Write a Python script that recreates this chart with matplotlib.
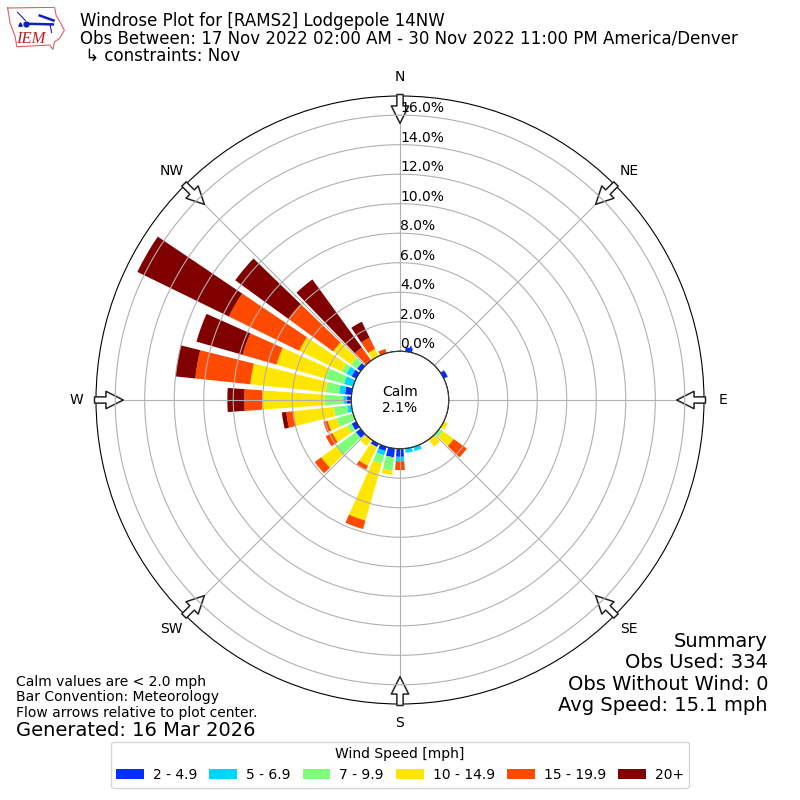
import numpy as np
import matplotlib
matplotlib.use('Agg')
import matplotlib.pyplot as plt
from matplotlib.patches import Circle

# wind directions, one bar each 10 degrees
directions = np.arange(0, 360, 10)

# percent of obs per direction and speed bin
#            0    10   20   30   40   50   60   70   80   90  100  110  120   130  140  150  160  170
speed_2_5 = [0.0, 0.3, 0.0, 0.0, 0.0, 0.0, 0.3, 0.0, 0.0, 0.0, 0.0, 0.0, 0.0, 0.0, 0.0, 0.0, 0.0, 0.0,
             # 180  190   200   210   220  230   240   250  260  270   280   290   300   310  320  330  340  350
             0.55, 0.6, 0.3, 0.25, 0.0, 0.4, 0.35, 0.0, 0.0, 0.3, 0.45, 0.0, 0.35, 0.3, 0.0, 0.0, 0.0, 0.0]
speed_5_7 = [0.0, 0.0, 0.0, 0.0, 0.0, 0.0, 0.0, 0.0, 0.0, 0.0, 0.0, 0.0, 0.0, 0.0, 0.0, 0.0, 0.3, 0.3,
             0.3, 0.0, 0.3, 0.0, 0.0, 0.0, 0.0, 0.0, 0.3, 0.25, 0.4, 0.65, 0.4, 0.0, 0.0, 0.0, 0.0, 0.0]
speed_7_10 = [0.0, 0.0, 0.0, 0.0, 0.0, 0.0, 0.0, 0.0, 0.0, 0.0, 0.0, 0.0, 0.0, 0.3, 0.0, 0.0, 0.0, 0.0,
              0.0, 0.9, 0.6, 0.0, 0.0, 1.65, 0.35, 1.15, 0.9, 1.25, 0.9, 1.3, 0.35, 0.5, 0.0, 0.0, 0.0, 0.0]
speed_10_15 = [0.0, 0.0, 0.0, 0.0, 0.0, 0.0, 0.0, 0.0, 0.0, 0.0, 0.0, 0.0, 0.3, 0.9, 0.6, 0.0, 0.0, 0.0,
               0.0, 0.3, 4.0, 1.4, 0.55, 1.25, 1.1, 0.65, 2.75, 4.25, 5.15, 3.45, 3.2, 1.5, 0.0, 0.55, 0.0, 0.0]
speed_15_20 = [0.0, 0.0, 0.0, 0.0, 0.0, 0.0, 0.0, 0.0, 0.0, 0.0, 0.0, 0.0, 0.0, 1.1, 0.0, 0.0, 0.0, 0.0,
               0.6, 0.0, 0.6, 0.3, 0.0, 0.55, 0.5, 0.3, 0.5, 1.2, 3.75, 2.4, 5.3, 3.75, 1.1, 0.85, 0.3, 0.0]
speed_20 = [0.0, 0.0, 0.0, 0.0, 0.0, 0.0, 0.0, 0.0, 0.0, 0.0, 0.0, 0.0, 0.0, 0.0, 0.0, 0.0, 0.0, 0.0,
            0.0, 0.0, 0.0, 0.0, 0.0, 0.0, 0.0, 0.0, 0.3, 1.15, 1.35, 3.25, 6.9, 4.45, 5.7, 1.2, 0.0, 0.0]

speed_series = [speed_2_5, speed_5_7, speed_7_10, speed_10_15, speed_15_20, speed_20]
speed_labels = ['2 - 4.9', '5 - 6.9', '7 - 9.9', '10 - 14.9', '15 - 19.9', '20+']
speed_colors = ['#0030ff', '#00d4ff', '#7dff7a', '#ffe600', '#ff4a00', '#800000']

ring_values = [0, 2, 4, 6, 8, 10, 12, 14, 16]
compass_labels = ['N', 'NE', 'E', 'SE', 'S', 'SW', 'W', 'NW']
compass_angles = [0, 45, 90, 135, 180, 225, 270, 315]

fig = plt.figure(figsize=(8, 8), dpi=100)
ax = fig.add_axes([0.12, 0.12, 0.76, 0.76], projection='polar')
ax.set_theta_zero_location('N')
ax.set_theta_direction(-1)

# --- stacked bars ---
theta = np.radians(directions)
base = np.zeros(len(directions))
for vals, col, lab in zip(speed_series, speed_colors, speed_labels):
    vals = np.array(vals)
    ax.bar(theta, vals, width=np.radians(8), bottom=base, color=col, label=lab, linewidth=0)
    base = base + vals

ax.set_rorigin(-3.3)
ax.set_ylim(0, 17.3)
ax.set_rgrids(ring_values, [f'{v:.1f}%' for v in ring_values], fontsize=10)
ax.set_rlabel_position(0)
ax.set_thetagrids(compass_angles, compass_labels, fontsize=10)
ax.grid(True, color='#b0b0b0', linewidth=0.8)
ax.yaxis.set_zorder(6)  # percent labels stay over the arrows

# --- calm circle ---
ax.add_patch(Circle((0.5, 0.5), 0.0798, transform=ax.transAxes, facecolor='white',
                    edgecolor='black', linewidth=1, zorder=6.5))
ax.text(0.5, 0.5, 'Calm\n2.1%', transform=ax.transAxes, ha='center', va='center',
        fontsize=10, zorder=7)

# --- flow arrows on the rim ---
for ang in compass_angles:
    ax.annotate('', xy=(np.radians(ang), 15.45), xytext=(np.radians(ang), 17.4),
                xycoords='data', textcoords='data', annotation_clip=False, zorder=5,
                arrowprops=dict(facecolor='white', edgecolor='#222222', width=4.5,
                                headwidth=12.5, headlength=12.5, linewidth=1.1, shrink=0))

# --- texts ---
fig.text(0.1, 0.9740, 'Windrose Plot for [RAMS2] Lodgepole 14NW', fontsize=12, va='center')
fig.text(0.1, 0.9520, 'Obs Between: 17 Nov 2022 02:00 AM - 30 Nov 2022 11:00 PM America/Denver',
         fontsize=12, va='center')
fig.text(0.1, 0.9300, ' ↳ constraints: Nov', fontsize=12, va='center')

fig.text(0.96, 0.106, 'Summary\nObs Used: 334\nObs Without Wind: 0\nAvg Speed: 15.1 mph',
         fontsize=14, ha='right', va='bottom', linespacing=1.16)
fig.text(0.02, 0.1, 'Calm values are < 2.0 mph\nBar Convention: Meteorology\nFlow arrows relative to plot center.',
         fontsize=10, va='bottom', linespacing=1.15)
fig.text(0.02, 0.0875, 'Generated: 16 Mar 2026', fontsize=14, va='center')

# --- legend ---
fig.legend(*ax.get_legend_handles_labels(), loc='lower center', bbox_to_anchor=(0.5, 0.0068),
           ncol=6, title='Wind Speed [mph]', fontsize=10, title_fontsize=10,
           columnspacing=0.86, handletextpad=0.65)

# --- IEM logo ---
logo = fig.add_axes([7 / 800, 1 - 50 / 800, 58 / 800, 43 / 800])
logo.set_xlim(20, 197)
logo.set_ylim(150, 19)
logo.axis('off')
state_x = [22, 165, 170, 185, 195, 180, 165, 160, 150, 50, 45, 30, 25, 22]
state_y = [22, 20, 45, 70, 90, 115, 125, 148, 135, 140, 110, 70, 40, 22]
logo.plot(state_x, state_y, color='#e06060', linewidth=0.8)
logo.plot([78, 160], [70, 72], color='#1020c0', linewidth=1.8)
logo.plot([120, 162], [45, 60], color='#1020c0', linewidth=1.8)
logo.plot([52, 76], [35, 60], color='#1020c0', linewidth=0.8)
logo.plot([152, 156], [75, 97], color='#1020c0', linewidth=0.8)
logo.plot([78], [70], 'o', color='#1020c0', markersize=3.5)
logo.plot([60], [72], '^', color='#1020c0', markersize=2.5)
logo.text(92, 115, 'IEM', color='#c02020', fontsize=12, family='Liberation Serif',
          style='italic', ha='center', va='center')

fig.savefig('out.png', dpi=100)
